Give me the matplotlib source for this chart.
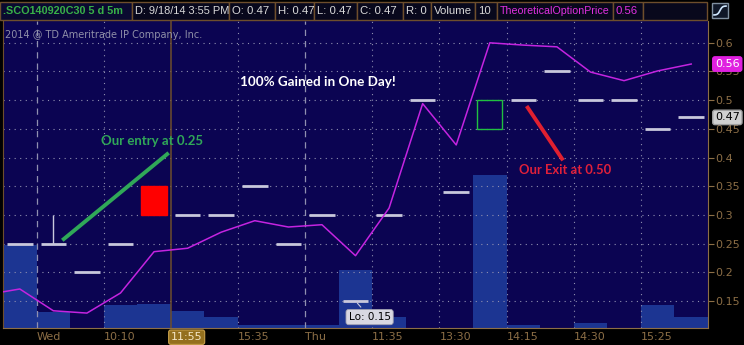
import numpy as np
import matplotlib
matplotlib.use("Agg")
from matplotlib import pyplot as plt
from matplotlib.patches import Rectangle

# 5 minute option chart, one slot per bar
close = [0.25, 0.25, 0.20, 0.25, None, 0.30, 0.30, 0.35, 0.25, 0.30, 0.15,
         0.30, 0.50, 0.34, None, 0.50, 0.55, 0.50, 0.50, 0.45, 0.47]
high_wick = {1: (0.25, 0.30)}
volume = [78, 15, 0, 22, 23, 16, 10, 3, 3, 3, 55, 10, 0, 0, 145, 3, 0, 5, 0, 22, 10]
theo_prev = 0.161
theo = [0.171, 0.133, 0.129, 0.164, 0.236, 0.242, 0.270, 0.290, 0.279, 0.283,
        0.229, 0.312, 0.494, 0.422, 0.600, 0.596, 0.593, 0.549, 0.534, 0.551, 0.563]
xtick_slots = [0.5, 2.5, 4.5, 6.5, 8.5, 10.5, 12.5, 14.5, 16.5, 18.5]
xtick_labels = ["Wed", "10:10", "11:55", "15:35", "Thu", "11:35", "13:30", "14:15", "14:30", "15:25"]
day_breaks = ["Wed", "Thu"]
cursor_label = "11:55"
yticks = [0.15, 0.2, 0.25, 0.3, 0.35, 0.4, 0.45, 0.5, 0.55, 0.6]

W, H = 744, 345
BG = "#0b0452"
TAN = "#8c6e46"
BROWN = "#6e4e2c"
HFONT = "Liberation Sans"

fig = plt.figure(figsize=(W / 100, H / 100), dpi=100, facecolor="black")
rect = [3 / W, (H - 328) / H, 705 / W, (328 - 21) / H]

# volume underneath
axv = fig.add_axes(rect, facecolor=BG)
n = len(close)
xs = np.arange(n)
axv.bar(xs, volume, width=1.0, color="#1c3592", edgecolor="none")
axv.set_xlim(-0.5, n - 0.5)
axv.set_ylim(0, 290)
axv.set_xticks([])
axv.set_yticks([])
for s in axv.spines.values():
    s.set_visible(False)

ax = fig.add_axes(rect)
ax.patch.set_visible(False)
ax.set_xlim(-0.5, n - 0.5)
ax.set_ylim(0.103, 0.638)

# grid
for y in yticks:
    ax.axhline(y, color="#9090b0", lw=0.8, ls=(0, (1, 4)), zorder=1)
for xt, lab in zip(xtick_slots, xtick_labels):
    if lab in day_breaks:
        ax.axvline(xt, color="#9090b0", lw=0.9, ls=(0, (5, 4)), zorder=1)
    elif lab == cursor_label:
        ax.axvline(xt, color=BROWN, lw=1.1, zorder=1)
    else:
        ax.axvline(xt, color="#9090b0", lw=0.8, ls=(0, (1, 4)), zorder=1)

# close dashes
for i, c in enumerate(close):
    if c is not None:
        ax.hlines(c, i - 0.38, i + 0.38, color="#c8c8dc", lw=2, zorder=3)
for i, (lo, hi) in high_wick.items():
    ax.vlines(i, lo, hi, color="#c8c8dc", lw=1, zorder=3)

# theoretical price
ax.plot(np.arange(-1, n), [theo_prev] + theo, color="#c424e0", lw=1.1, zorder=4)

# annotations
ax.plot([1.31, 4.39], [0.258, 0.406], color="#30a858", lw=2.8, zorder=5)
ax.text(3.94, 0.429, "Our entry at 0.25", color="#30a858", fontsize=9.5,
        fontweight="bold", family="Lato", ha="center", va="center", zorder=5)
ax.add_patch(Rectangle((3.61, 0.30), 0.78, 0.05, color="#ff0000", zorder=5))
ax.text(8.87, 0.532, "100% Gained in One Day!", color="white", fontsize=9.7,
        fontweight="bold", family="Lato", ha="center", va="center", zorder=5)
ax.add_patch(Rectangle((13.61, 0.45), 0.75, 0.05, fill=False, edgecolor="#20c040", lw=1, zorder=5))
ax.plot([15.13, 16.15], [0.487, 0.398], color="#e02030", lw=2.8, zorder=5)
ax.text(16.24, 0.379, "Our Exit at 0.50", color="#e0203a", fontsize=9.4,
        fontweight="bold", family="Lato", ha="center", va="center", zorder=5)

lo_i = int(np.argmin([c if c is not None else 9 for c in close]))
ax.annotate(f"Lo: {close[lo_i]:.2f}", xy=(lo_i, close[lo_i]), xytext=(lo_i + 0.42, 0.122),
            ha="center", va="center", fontsize=7.5, color="black", zorder=6,
            bbox=dict(boxstyle="round,pad=0.25", fc="#d8d8e2", ec="#a0a0b0", lw=0.6),
            arrowprops=dict(arrowstyle="-", color="#c8c8dc", lw=0.8))

# axes styling
ax.spines["top"].set_visible(False)
ax.spines["right"].set_color(TAN)
ax.spines["bottom"].set_color(TAN)
ax.spines["left"].set_color(BROWN)
ax.yaxis.tick_right()
ax.set_yticks(yticks)
ax.set_yticklabels([f"{v:g}" for v in yticks])
ax.tick_params(axis="y", colors=TAN, labelcolor=TAN, labelsize=8, length=4, pad=1)
ax.set_xticks(xtick_slots)
ax.set_xticklabels(xtick_labels)
ax.tick_params(axis="x", length=0, labelcolor=TAN, labelsize=8, pad=3)
for t in ax.get_xticklabels():
    t.set_horizontalalignment("left")
    if t.get_text() == cursor_label:
        t.set_color("#f4e6c4")
        t.set_bbox(dict(boxstyle="round,pad=0.2", fc="#94701e", ec="#c8a04a", lw=0.8))

# last value labels on right axis
ax.annotate(f"{theo[-1]:.2f}", xy=(1, theo[-1]), xycoords=("axes fraction", "data"),
            xytext=(5, 0), textcoords="offset points", ha="left", va="center",
            fontsize=8, color="white", zorder=7,
            bbox=dict(boxstyle="round,pad=0.2", fc="#e020e0", ec="#e020e0"))
ax.annotate(f"{close[-1]:.2f}", xy=(1, close[-1]), xycoords=("axes fraction", "data"),
            xytext=(5, 0), textcoords="offset points", ha="left", va="center",
            fontsize=8, color="black", zorder=7,
            bbox=dict(boxstyle="round,pad=0.2", fc="#d0d0d0", ec="#a0a0a0"))

# header bar in pixel coordinates
hd = fig.add_axes([0, 0, 1, 1])
hd.set_xlim(0, W)
hd.set_ylim(H, 0)
hd.axis("off")
hd.patch.set_visible(False)
cells = [
    (0, 132, ".SCO140920C30 5 d 5m", "#38b048", 7.8, True),
    (132, 229, "D: 9/18/14 3:55 PM", "#d8d8d8", 7.9, False),
    (229, 275, f"O: {close[-1]:.2f}", "#d8d8d8", 8.2, False),
    (275, 314, f"H: {close[-1]:.2f}", "#d8d8d8", 8.2, False),
    (314, 357, f"L: {close[-1]:.2f}", "#d8d8d8", 8.2, False),
    (357, 403, f"C: {close[-1]:.2f}", "#d8d8d8", 8.2, False),
    (403, 431, "R: 0", "#d8d8d8", 8.2, False),
    (431, 475, "Volume", "#d8d8d8", 8.2, False),
    (475, 497, f"{volume[-1]}", "#d8d8d8", 8.2, False),
    (497, 613, "TheoreticalOptionPrice", "#e030e0", 7.7, False),
    (613, 643, f"{theo[-1]:.2f}", "#e030e0", 8.2, False),
    (643, 707, "", "#d8d8d8", 8.2, False),
]
for x0, x1, txt, col, fs, bold in cells:
    fc = "#0a0a30" if bold else "#08081c"
    hd.add_patch(Rectangle((x0, 2), x1 - x0, 18, fc=fc, ec=BROWN, lw=1))
    if txt:
        hd.text(x0 + 3, 11.5, txt, color=col, fontsize=fs, family=HFONT,
                fontweight="bold" if bold else "normal", va="center", ha="left")
# chart type icon
hd.add_patch(Rectangle((712, 3), 16, 15, fc="#101828", ec="#8090a0", lw=1))
s = np.linspace(-1, 1, 20)
hd.plot(714 + (s + 1) * 6, 10.5 - np.tanh(2.5 * s) * 4.5, color="#d0e8ff", lw=1.2)

hd.text(5, 35, "2014 @ TD Ameritrade IP Company, Inc.", color="#9090a8",
        fontsize=7, va="center", ha="left")

fig.savefig("out.png", dpi=100, facecolor="black")
